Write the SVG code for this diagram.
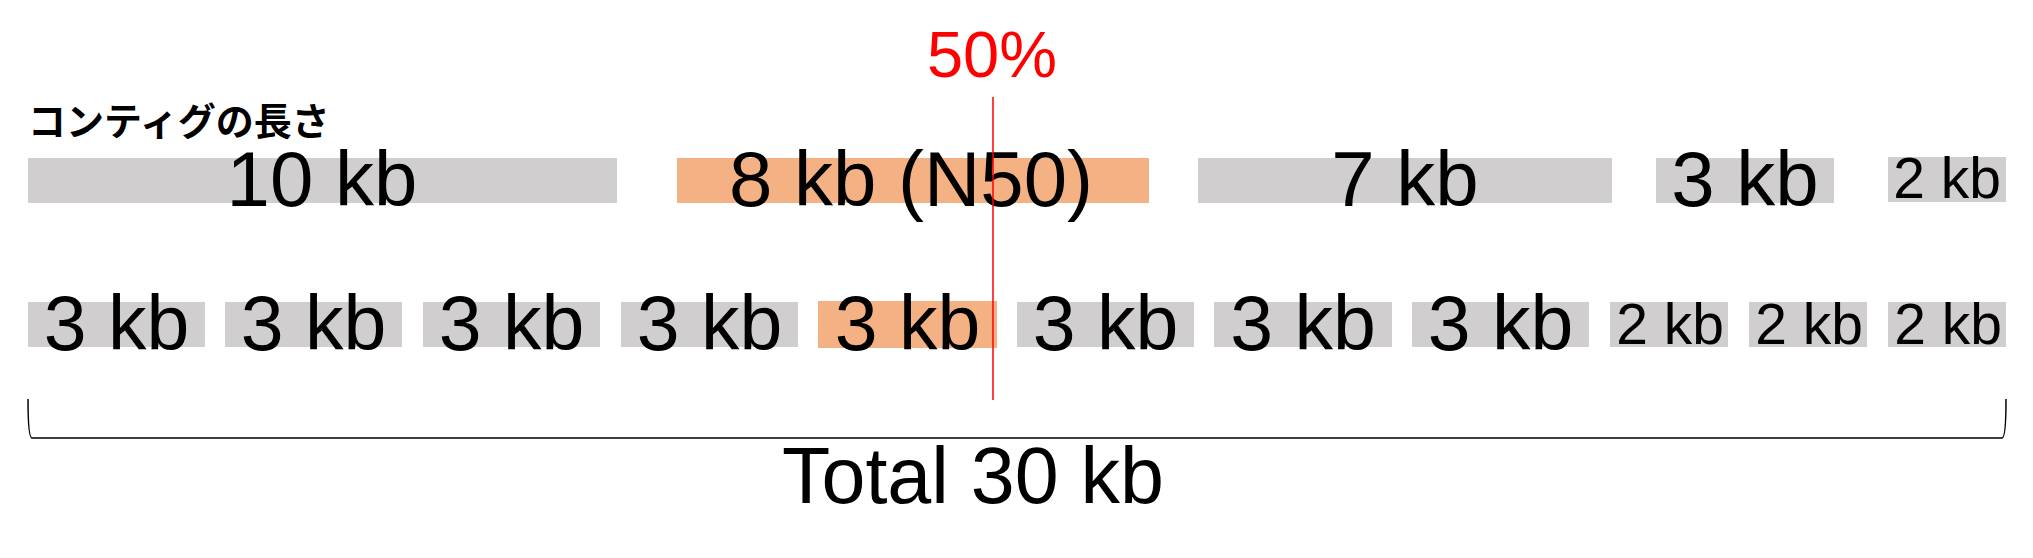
<svg xmlns="http://www.w3.org/2000/svg" width="2033" height="558" viewBox="0 0 2033 558">
<style>
.g{fill:#d0cece}
.o{fill:#f4b183}
.t{font-family:"Liberation Sans",Arial,sans-serif;fill:#000;text-anchor:middle}
.big{font-size:78px}
.mid{font-size:77px}
.sm{font-size:57px}
.jp{font-family:"Noto Sans CJK JP",sans-serif;font-weight:bold;font-size:38px;fill:#000}
</style>
<rect width="2033" height="558" fill="#fff"/>
<text class="jp" x="28" y="135">コンティグの長さ</text>
<g id="row1">
<g id="c10"><rect class="g" x="28" y="158" width="589" height="45"/><text class="t big" x="322" y="206">10 kb</text></g>
<g id="c8"><rect class="o" x="677" y="158" width="472" height="45"/><text class="t big" x="911" y="206">8 kb (N50)</text></g>
<g id="c7"><rect class="g" x="1198" y="158" width="414" height="45"/><text class="t big" x="1405" y="206">7 kb</text></g>
<g id="c3"><rect class="g" x="1656" y="158" width="178" height="45"/><text class="t big" x="1745" y="206">3 kb</text></g>
<g id="c2"><rect class="g" x="1888" y="157" width="118" height="45"/><text class="t sm" x="1947" y="198">2 kb</text></g>
</g>
<g id="row2">
<g id="r1"><rect class="g" x="28" y="302" width="177" height="45"/><text class="t mid" x="116.5" y="350">3 kb</text></g>
<g id="r2"><rect class="g" x="225" y="302" width="177" height="45"/><text class="t mid" x="313.5" y="350">3 kb</text></g>
<g id="r3"><rect class="g" x="423" y="302" width="177" height="45"/><text class="t mid" x="511.5" y="350">3 kb</text></g>
<g id="r4"><rect class="g" x="621" y="302" width="177" height="45"/><text class="t mid" x="709.5" y="350">3 kb</text></g>
<g id="r5"><rect class="o" x="818" y="301" width="179" height="47"/><text class="t mid" x="907.5" y="350">3 kb</text></g>
<g id="r6"><rect class="g" x="1017" y="302" width="177" height="45"/><text class="t mid" x="1105.5" y="350">3 kb</text></g>
<g id="r7"><rect class="g" x="1214" y="302" width="178" height="45"/><text class="t mid" x="1303" y="350">3 kb</text></g>
<g id="r8"><rect class="g" x="1412" y="302" width="177" height="45"/><text class="t mid" x="1500.5" y="350">3 kb</text></g>
<g id="r9"><rect class="g" x="1610" y="302" width="118" height="45"/><text class="t sm" x="1670" y="344">2 kb</text></g>
<g id="r10"><rect class="g" x="1749" y="302" width="118" height="45"/><text class="t sm" x="1809" y="344">2 kb</text></g>
<g id="r11"><rect class="g" x="1888" y="302" width="118" height="45"/><text class="t sm" x="1948" y="344">2 kb</text></g>
</g>
<g id="connectors">
<line x1="993" y1="97" x2="993" y2="400" stroke="#ff0000" stroke-width="1.5"/>
<path d="M28 399 Q28 438 32 438 L2002 438 Q2006 438 2006 399" fill="none" stroke="#000" stroke-width="1.5"/>
</g>
<text class="t" x="992" y="77" font-size="65" style="fill:#ff0000">50%</text>
<text class="t" x="973" y="503" font-size="79">Total 30 kb</text>
</svg>
